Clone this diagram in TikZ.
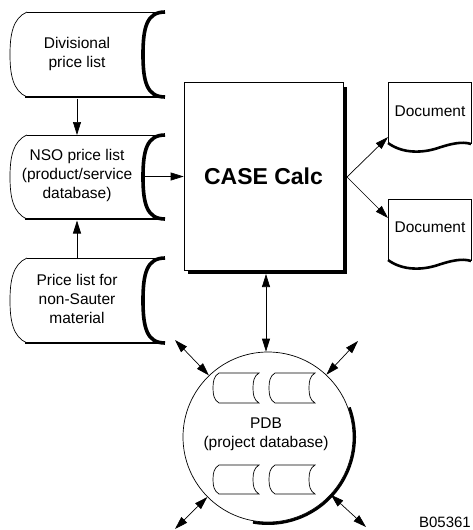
\documentclass[tikz,border=0pt]{standalone}
\usepackage{fontspec}
\setmainfont{Liberation Sans}
\usetikzlibrary{arrows.meta,calc}
\newcommand\bigcyl[4]{% L T R B
  \fill[white] ({#1+17},#2) -- (#3,#2) -- (#3,#4) -- ({#1+17},#4) -- cycle;
  \draw[thinl] ({#1+17},#2) -- (#3,#2);
  \draw[thinl] ({#1+17},#2) .. controls ({#1+3},{#2+6}) and (#1,{#2+22}) .. (#1,{(#2+#4)/2}) .. controls (#1,{#4-22}) and ({#1+3},{#4-6}) .. ({#1+17},#4);
  \draw[line width=2.6pt] ({#1+15},#4) -- (#3,#4);
  \draw[line width=3.6pt] (#3,#2) .. controls ({#3-18},#2) and ({#3-22},{#2+15}) .. ({#3-22},{(#2+#4)/2}) .. controls ({#3-22},{#4-15}) and ({#3-18},#4) .. (#3,#4);
}
\newcommand\smallcyl[4]{% L T R B
  \draw[thinl] ({#1+6},#2) -- (#3,#2) .. controls ({#3-5},{#2+3}) and ({#3-6},{#2+8}) .. ({#3-6},{(#2+#4)/2}) .. controls ({#3-6},{#4-8}) and ({#3-5},{#4-3}) .. (#3,#4) -- ({#1+6},#4) .. controls ({#1+1},{#4-3}) and (#1,{#4-8}) .. (#1,{(#2+#4)/2}) .. controls (#1,{#2+8}) and ({#1+1},{#2+3}) .. cycle;
}
\newcommand\docshape[2]{% L T
  \fill[white] (#1,{#2+61}) -- (#1,#2) -- ({#1+83},#2) -- ({#1+83},{#2+62}) -- cycle;
  \draw[thinl] (#1,{#2+61}) -- (#1,#2) -- ({#1+83},#2) -- ({#1+83},{#2+62});
  \draw[line width=2.6pt] (#1,{#2+61}) .. controls ({#1+15},{#2+72}) and ({#1+35},{#2+71}) .. ({#1+50},{#2+66}) .. controls ({#1+62},{#2+62}) and ({#1+74},{#2+59}) .. ({#1+83},{#2+62});
}
\begin{document}
\begin{tikzpicture}[x=1pt,y=-1pt,
  thinl/.style={line width=0.7pt},
  arr/.style={line width=0.7pt,-{Triangle[length=13pt,width=8pt]}},
  dbl/.style={line width=0.7pt,{Triangle[length=13pt,width=8pt]}-{Triangle[length=13pt,width=8pt]}},
  lbl/.style={font=\fontsize{15.5}{19}\selectfont,align=center,inner sep=0pt}]
\useasboundingbox (0,0) rectangle (473,530);
% cylinders
\bigcyl{10}{12}{165}{97}
\bigcyl{10}{135}{165}{219}
\bigcyl{10}{258}{165}{343}
\node[lbl] (divtxt) at (77,54) {Divisional\\price list};
\node[lbl] (nsotxt) at (77,175) {NSO price list\\(product/service\\database)};
\node[lbl] (nontxt) at (77,298.5) {Price list for\\non-Sauter\\material};
\coordinate (divb) at (77,98.5);
\coordinate (nsot) at (77,135);
\coordinate (nsob) at (77,220.5);
\coordinate (nont) at (77,258);
\coordinate (nsoout) at (145,176.5);
\draw[arr] (divb) -- (nsot);
\draw[arr] (nont) -- (nsob);
% main box
\fill[black] (188,87) rectangle (347,274);
\node[draw,fill=white,thinl,minimum width=159pt,minimum height=188pt,inner sep=0pt,font=\bfseries\fontsize{23}{27}\selectfont] (calc) at (263.5,176.5) {CASE Calc};
\draw[arr] (nsoout) -- (calc.west);
% documents
\docshape{388}{82}
\docshape{388}{199}
\node[lbl] (doc1) at (430,111) {Document};
\node[lbl] (doc2) at (430,227) {Document};
\coordinate (calcout) at (347,177);
\coordinate (d1in) at (388,137);
\coordinate (d2in) at (388,218);
\draw[arr] (calcout) -- (d1in);
\draw[arr] (calcout) -- (d2in);
% PDB circle
\draw[line width=3pt] (268,437) ++(-20:86.5) arc[start angle=-20,end angle=100,radius=86.5];
\node[circle,draw,fill=white,thinl,minimum size=170pt,inner sep=0pt] (pdb) at (268,437) {};
\smallcyl{213}{373}{259}{403}
\smallcyl{269}{373}{315}{403}
\smallcyl{213}{465}{259}{494}
\smallcyl{269}{465}{315}{494}
\node[lbl] (pdbtxt) at (266,434) {PDB\\(project database)};
\coordinate (vtop) at (266,274);
\draw[dbl] (vtop) -- (vtop |- pdb.north);
\coordinate (ul) at (175,340);
\coordinate (ur) at (358,341);
\coordinate (ll) at (175,529);
\coordinate (lr) at (366,527);
\draw[dbl] (pdb) -- (ul);
\draw[dbl] (pdb) -- (ur);
\draw[dbl] (pdb) -- (ll);
\draw[dbl] (pdb) -- (lr);
\node[font=\fontsize{15}{18}\selectfont,inner sep=0pt,anchor=base east] (code) at (471,527) {B05361};
\end{tikzpicture}
\end{document}
